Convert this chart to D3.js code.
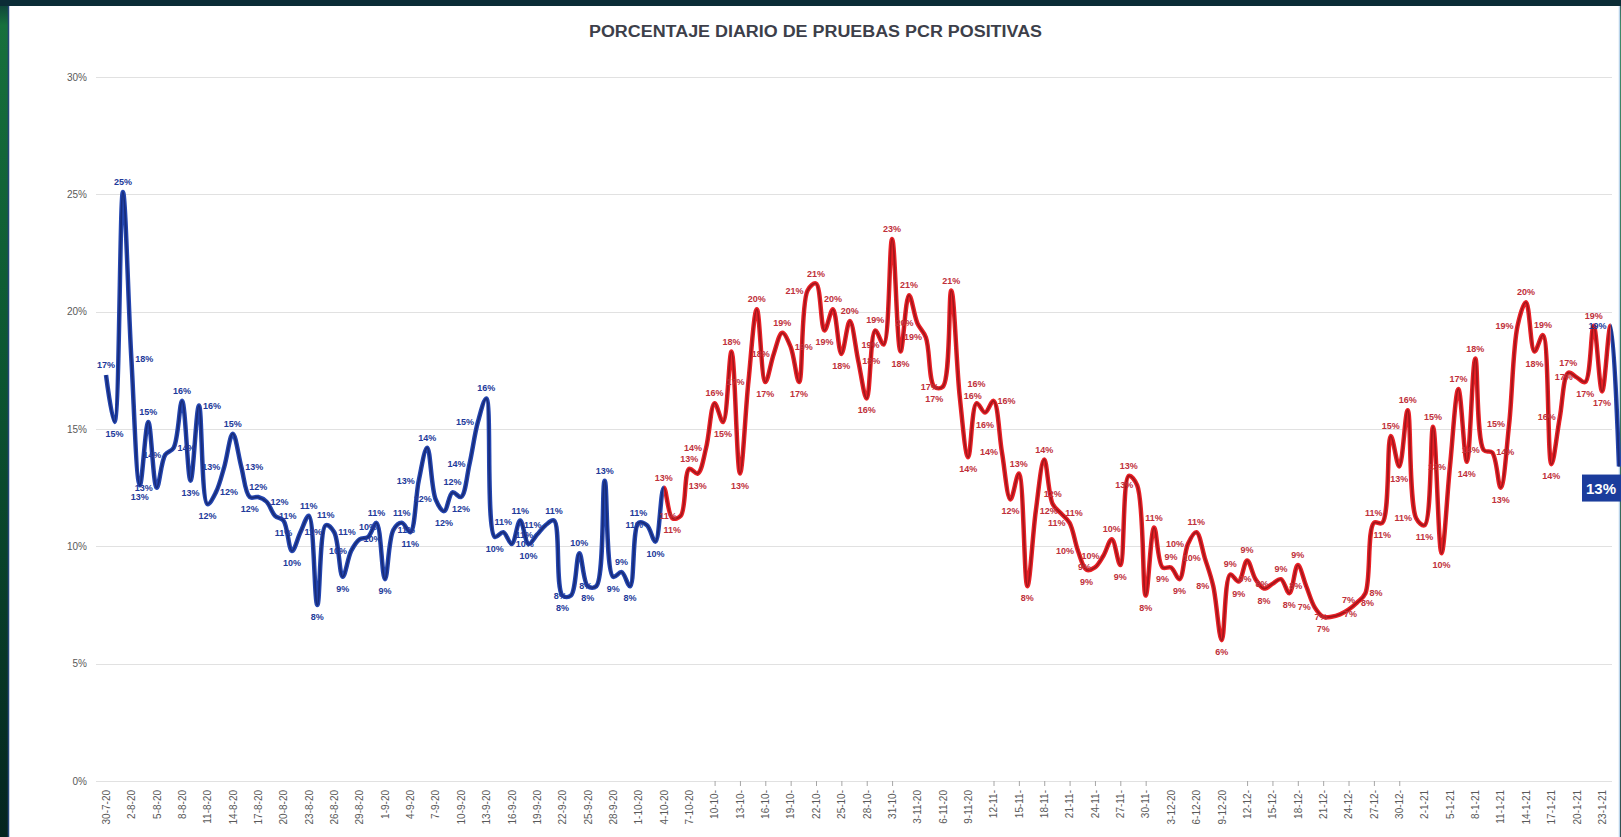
<!DOCTYPE html>
<html lang="es">
<head>
<meta charset="UTF-8">
<title>Porcentaje diario de pruebas PCR positivas</title>
<style>
    html, body { margin: 0; padding: 0; overflow: hidden; background: #062c24; }
    svg { display: block; font-family: "Liberation Sans", Arial, sans-serif; }
    .grid line { stroke: #e1e1e1; stroke-width: 1; }
    .y-axis text { fill: #595959; font-size: 10px; }
    .x-axis text { fill: #595959; font-size: 10px; }
    .etiqueta { font-size: 9px; font-weight: bold; }
</style>
</head>
<body>
<div id="grafico"></div>
<script src="https://cdn.jsdelivr.net/npm/d3@7"></script>
<script>
// Datos diarios desde el 30-7-20 (un valor por día)
var fechaInicio = new Date(2020, 6, 30);
var positividad = [
    17.3, 15.3, 25.1, 18.0, 12.6, 15.3, 12.5, 13.9, 14.2, 16.2,
    12.8, 16.0, 11.8, 12.3, 13.4, 14.8, 13.4, 12.1, 12.1, 11.9,
    11.3, 11.1, 9.8, 10.6, 11.3, 7.5, 10.9, 10.6, 8.7, 9.8,
    10.3, 10.4, 11.0, 8.6, 10.7, 11.0, 10.6, 12.8, 14.2, 12.0,
    11.5, 12.3, 12.1, 13.5, 15.3, 16.3, 10.4, 10.6, 10.1, 11.1,
    10.1, 10.5, 10.9, 11.1, 7.9, 7.9, 9.7, 8.3, 8.3, 12.8,
    8.7, 8.9, 8.3, 11.0, 10.9, 10.2, 12.5, 11.2, 11.3, 13.3,
    13.1, 14.2, 16.1, 15.3, 18.3, 13.1, 17.0, 20.1, 17.0, 18.2,
    19.1, 18.5, 17.0, 20.9, 21.2, 19.2, 20.1, 18.2, 19.6, 17.9,
    16.3, 19.2, 18.6, 23.1, 18.3, 20.7, 19.5, 18.9, 16.8, 16.8,
    20.9, 16.4, 13.8, 16.1, 15.7, 16.2, 14.0, 12.0, 13.1, 8.3,
    11.5, 13.7, 11.8, 11.4, 11.0, 9.8, 9.0, 9.1, 9.6, 10.3,
    9.2, 13.0, 12.6, 7.9, 10.8, 9.1, 9.1, 8.6, 10.1, 10.6,
    9.5, 8.3, 6.0, 8.8, 8.5, 9.4, 8.6, 8.2, 8.4, 8.6,
    8.0, 9.2, 8.3, 7.4, 7.0, 7.0, 7.1, 7.3, 7.6, 8.0,
    11.0, 11.0, 14.7, 13.4, 15.8, 11.2, 10.9, 15.1, 9.7, 13.4,
    16.7, 13.6, 18.0, 14.1, 14.0, 12.5, 15.2, 19.4, 20.4, 18.3,
    19.0, 13.5, 15.5, 17.4, 17.2, 17.0, 19.4, 16.6, 19.4, 13.4
];

// Etiquetas del eje X (una cada tres días)
var etiquetasX = [
    "30-7-20", "2-8-20", "5-8-20", "8-8-20", "11-8-20", "14-8-20", "17-8-20", "20-8-20",
    "23-8-20", "26-8-20", "29-8-20", "1-9-20", "4-9-20", "7-9-20", "10-9-20", "13-9-20",
    "16-9-20", "19-9-20", "22-9-20", "25-9-20", "28-9-20", "1-10-20", "4-10-20", "7-10-20",
    "10-10-20", "13-10-20", "16-10-20", "19-10-20", "22-10-20", "25-10-20", "28-10-20", "31-10-20",
    "3-11-20", "6-11-20", "9-11-20", "12-11-20", "15-11-20", "18-11-20", "21-11-20", "24-11-20",
    "27-11-20", "30-11-20", "3-12-20", "6-12-20", "9-12-20", "12-12-20", "15-12-20", "18-12-20",
    "21-12-20", "24-12-20", "27-12-20", "30-12-20", "2-1-21", "5-1-21", "8-1-21", "11-1-21",
    "14-1-21", "17-1-21", "20-1-21", "23-1-21"
];

var ticksY = [0, 5, 10, 15, 20, 25, 30];

// tramo en rojo (desde el 4-10-20 hasta el penúltimo día), el resto en azul
var inicioRojo = 66;
var finRojo = 178;

var fechas = d3.timeDay.range(fechaInicio, d3.timeDay.offset(fechaInicio, positividad.length));
var datos = fechas.map(function (f, i) { return { fecha: f, i: i, v: positividad[i] }; });

var W = 1621, H = 837;

var svg = d3.select("#grafico").append("svg")
    .attr("width", W)
    .attr("height", H);

var defs = svg.append("defs");
var grad = defs.append("linearGradient").attr("id", "fondo")
    .attr("x1", 0).attr("y1", 0).attr("x2", 0).attr("y2", 1);
grad.append("stop").attr("offset", "0%").attr("stop-color", "#0d3a3a");
grad.append("stop").attr("offset", "3%").attr("stop-color", "#17703c");
grad.append("stop").attr("offset", "45%").attr("stop-color", "#0c5531");
grad.append("stop").attr("offset", "100%").attr("stop-color", "#04241f");

svg.append("rect").attr("width", W).attr("height", H).attr("fill", "url(#fondo)");
svg.append("rect").attr("x", 0).attr("y", 0).attr("width", W).attr("height", 6).attr("fill", "#0b2c36");
svg.append("rect")
    .attr("x", 8).attr("y", 6)
    .attr("width", W - 10).attr("height", H - 6)
    .attr("fill", "#ffffff");
svg.append("line")
    .attr("x1", 8.5).attr("x2", 8.5).attr("y1", 6).attr("y2", H)
    .attr("stroke", "#26457a").attr("stroke-width", 1.5);
svg.append("line")
    .attr("x1", W - 1.5).attr("x2", W - 1.5).attr("y1", 6).attr("y2", H)
    .attr("stroke", "#b9d3ea").attr("stroke-width", 1.5);

// título
svg.append("text")
    .attr("x", 589).attr("y", 37)
    .attr("textLength", 453)
    .attr("lengthAdjust", "spacingAndGlyphs")
    .attr("font-size", "16px")
    .attr("font-weight", "bold")
    .attr("fill", "#3d3f4a")
    .text("PORCENTAJE DIARIO DE PRUEBAS PCR POSITIVAS");

var x = d3.scalePoint()
    .domain(d3.range(positividad.length))
    .range([106, 1619]);

var y = d3.scaleLinear()
    .domain([0, 30])
    .range([781, 77]);

// líneas de cuadrícula
svg.append("g").attr("class", "grid")
    .selectAll("line")
    .data(ticksY)
    .enter().append("line")
    .attr("x1", 96).attr("x2", 1612)
    .attr("y1", function (d) { return Math.round(y(d)) + 0.5; })
    .attr("y2", function (d) { return Math.round(y(d)) + 0.5; });

// eje Y
var ejeY = svg.append("g")
    .attr("class", "y-axis")
    .attr("transform", "translate(96,0)")
    .call(d3.axisLeft(y).tickValues(ticksY).tickSize(0).tickPadding(9)
        .tickFormat(function (d) { return d + "%"; }));
ejeY.select(".domain").remove();

// eje X (etiquetas cada 3 días, las largas se ven cortadas como en el original)
var ejeX = svg.append("g")
    .attr("class", "x-axis")
    .attr("transform", "translate(0,781)")
    .call(d3.axisBottom(x)
        .tickValues(etiquetasX.map(function (d, k) { return k * 3; }))
        .tickSize(0)
        .tickFormat(function (d) {
            var t = etiquetasX[d / 3];
            return t.length > 7 ? t.slice(0, 6) : t;
        }));
ejeX.select(".domain").remove();
ejeX.selectAll(".tick text")
    .attr("transform", "rotate(-90)")
    .attr("text-anchor", "end")
    .attr("dx", "-9px")
    .attr("dy", "0.33em")
    .attr("x", 0).attr("y", 0);
ejeX.selectAll(".tick")
    .filter(function (d) { return etiquetasX[d / 3].length > 7; })
    .append("line")
    .attr("y1", 0).attr("y2", 5)
    .attr("stroke", "#a6a6a6");

// línea suavizada
var linea = d3.line()
    .x(function (d) { return x(d.i); })
    .y(function (d) { return y(d.v); })
    .curve(d3.curveCatmullRom.alpha(0.5));

defs.append("clipPath").attr("id", "clipRojo")
    .append("rect")
    .attr("x", x(inicioRojo)).attr("y", 0)
    .attr("width", x(finRojo) - x(inicioRojo)).attr("height", H);
var clipAzul = defs.append("clipPath").attr("id", "clipAzul");
clipAzul.append("rect").attr("x", 0).attr("y", 0).attr("width", x(inicioRojo)).attr("height", H);
clipAzul.append("rect").attr("x", x(finRojo)).attr("y", 0).attr("width", W - x(finRojo)).attr("height", H);

function trazar(clip, exterior, interior) {
    var g = svg.append("g").attr("clip-path", "url(#" + clip + ")");
    g.append("path").datum(datos)
        .attr("d", linea)
        .attr("fill", "none")
        .attr("stroke", exterior)
        .attr("stroke-width", 4.5)
        .attr("stroke-linejoin", "round");
    g.append("path").datum(datos)
        .attr("d", linea)
        .attr("fill", "none")
        .attr("stroke", interior)
        .attr("stroke-width", 1.8)
        .attr("stroke-linejoin", "round");
}
trazar("clipAzul", "#2446b0", "#182c7a");
trazar("clipRojo", "#ea2127", "#a3161b");

// etiquetas de datos, colocadas evitando solapes cuando se puede
function colorEtiqueta(i) {
    return (i < inicioRojo || i >= finRojo) ? "#22399a" : "#c0303a";
}
var n = positividad.length;
var ocupadas = [];

// caja del último valor destacado
var ultimo = datos[n - 1];
var cajaUltimo = { x: x(ultimo.i) - 37, y: y(ultimo.v) + 8, w: 40, h: 27 };
ocupadas.push(cajaUltimo);

function choca(b) {
    // fuera del área blanca cuenta como choque
    if (b.x < 96 || b.x + b.w > W - 4) return true;
    for (var k = 0; k < ocupadas.length; k++) {
        var o = ocupadas[k];
        if (b.x < o.x + o.w && b.x + b.w > o.x && b.y < o.y + o.h && b.y + b.h > o.y) return true;
    }
    return false;
}

var capaEtiquetas = svg.append("g");
datos.slice(0, n - 1).forEach(function (d) {
    var px = x(d.i), py = y(d.v);
    var prev = d.i > 0 ? positividad[d.i - 1] : d.v;
    var next = positividad[d.i + 1];
    var arriba = [px, py - 7, "middle"], abajo = [px, py + 15, "middle"],
        izq = [px - 4, py + 3, "end"], der = [px + 4, py + 3, "start"],
        arriba2 = [px, py - 16, "middle"], abajo2 = [px, py + 24, "middle"],
        arribaIzq = [px + 4, py - 7, "end"];
    var opciones;
    if (d.v >= prev && d.v >= next) opciones = [arriba, der, izq, arriba2, arribaIzq, abajo];
    else if (d.v <= prev && d.v <= next) opciones = [abajo, izq, der, abajo2, arriba];
    else opciones = [izq, der, arriba, abajo, arriba2, abajo2];

    var t = capaEtiquetas.append("text")
        .attr("class", "etiqueta")
        .attr("fill", colorEtiqueta(d.i))
        .text(Math.round(d.v) + "%");
    var elegido = null;
    for (var k = 0; k < opciones.length; k++) {
        var o = opciones[k];
        t.attr("x", o[0]).attr("y", o[1]).attr("text-anchor", o[2]);
        var bb = t.node().getBBox();
        var caja = { x: bb.x, y: bb.y + 1, w: bb.width, h: bb.height - 2 };
        if (!choca(caja)) { elegido = caja; break; }
    }
    if (!elegido) {
        var o0 = opciones[0];
        t.attr("x", o0[0]).attr("y", o0[1]).attr("text-anchor", o0[2]);
        var bb0 = t.node().getBBox();
        elegido = { x: bb0.x, y: bb0.y + 1, w: bb0.width, h: bb0.height - 2 };
    }
    ocupadas.push(elegido);
});

svg.append("rect")
    .attr("x", cajaUltimo.x).attr("y", cajaUltimo.y)
    .attr("width", cajaUltimo.w).attr("height", cajaUltimo.h)
    .attr("fill", "#1b3c9c");
svg.append("text")
    .attr("x", cajaUltimo.x + 4).attr("y", cajaUltimo.y + 19)
    .attr("fill", "#ffffff")
    .attr("font-size", "15px")
    .attr("font-weight", "bold")
    .text(Math.round(ultimo.v) + "%");
</script>
</body>
</html>
